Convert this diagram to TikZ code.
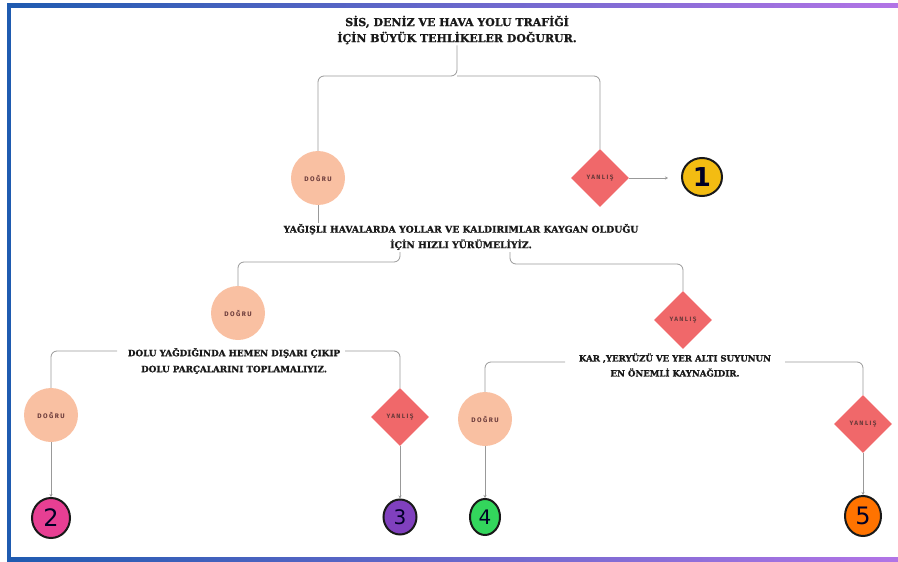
\documentclass[tikz,border=0pt]{standalone}
\usepackage{fontspec}
\usetikzlibrary{shapes.geometric,arrows.meta}
\newfontfamily\slab[BoldFeatures={FakeBold=1.2}]{DejaVu Serif}
\newfontfamily\lbl[LetterSpace=22]{Fira Sans}
\newfontfamily\digit{DejaVu Sans}
\definecolor{peach}{HTML}{F9C0A2}
\definecolor{coral}{HTML}{F0686A}
\definecolor{linec}{HTML}{999999}
\definecolor{lbltxt}{HTML}{6A3A3A}
\definecolor{bblue}{HTML}{1F5BB0}
\definecolor{bpurple}{HTML}{B274E6}
\definecolor{gold}{HTML}{F3BC12}
\tikzset{
  stmt/.style={align=center,inner sep=1pt,text=black!90},
  yes/.style={circle,fill=peach,minimum size=54pt,inner sep=0pt,font=\lbl\bfseries\fontsize{6.6}{7}\selectfont,text=lbltxt},
  no/.style={diamond,fill=coral,minimum width=58pt,minimum height=58pt,inner sep=0pt,font=\lbl\bfseries\fontsize{6.3}{7}\selectfont,text=lbltxt},
  badge/.style={ellipse,draw=black!90,line width=2pt,inner sep=0pt,text=black!85!blue,font=\digit\fontsize{24}{24}\selectfont},
  conn/.style={draw=linec,line width=0.8pt,rounded corners=6pt},
  arr/.style={draw=linec,line width=0.8pt,-{Stealth[length=3pt,width=3pt]}},
}
\begin{document}
\begin{tikzpicture}[x=1pt,y=-1pt]
\useasboundingbox (0,0) rectangle (898,562);
% frame
\shade[left color=bblue,right color=bpurple] (7,3) rectangle (898,7);
\shade[left color=bblue,right color=bpurple] (7,557) rectangle (898,561);
\fill[bblue] (7,3) rectangle (11,561);

% nodes
\node[stmt,font=\slab\bfseries\fontsize{11}{16}\selectfont] (t1) at (457,30) {SİS, DENİZ VE HAVA YOLU TRAFİĞİ\\İÇİN BÜYÜK TEHLİKELER DOĞURUR.};
\node[yes] (d1) at (318,178) {DOĞRU};
\node[no] (y1) at (600,178) {YANLIŞ};
\node[badge,fill=gold,minimum width=40pt,minimum height=38pt,font=\digit\bfseries\fontsize{26}{26}\selectfont] (b1) at (702,177) {1};
\node[stmt,font=\slab\bfseries\fontsize{9.3}{15.5}\selectfont] (t2) at (461,237) {YAĞIŞLI HAVALARDA YOLLAR VE KALDIRIMLAR KAYGAN OLDUĞU\\İÇİN HIZLI YÜRÜMELİYİZ.};
\node[yes] (d2) at (238,313) {DOĞRU};
\node[no] (y2) at (683,320) {YANLIŞ};
\node[stmt,font=\slab\bfseries\fontsize{8.8}{16}\selectfont] (t3) at (234,361) {DOLU YAĞDIĞINDA HEMEN DIŞARI ÇIKIP\\DOLU PARÇALARINI TOPLAMALIYIZ.};
\node[stmt,font=\slab\bfseries\fontsize{8.6}{15}\selectfont] (t4) at (675,365) {KAR ,YERYÜZÜ VE YER ALTI SUYUNUN\\EN ÖNEMLİ KAYNAĞIDIR.};
\node[yes] (d3) at (51,415) {DOĞRU};
\node[no] (y3) at (400,417) {YANLIŞ};
\node[yes] (d4) at (485,419) {DOĞRU};
\node[no] (y4) at (863,424) {YANLIŞ};
\node[badge,fill=magenta!75!purple!80,minimum width=38pt,minimum height=40pt] (b2) at (51,518) {2};
\node[badge,fill=blue!55!purple!75,minimum width=33pt,minimum height=35pt,font=\digit\fontsize{20}{20}\selectfont] (b3) at (400,517) {3};
\node[badge,fill=green!60!teal!80,minimum width=30pt,minimum height=36pt,font=\digit\fontsize{20}{20}\selectfont] (b4) at (485,517) {4};
\node[badge,fill=orange!90!red,minimum width=36pt,minimum height=40pt] (b5) at (863,516) {5};

% connectors
\coordinate (j1) at (457,76);
\draw[conn] (t1.south) -- (j1) -| (d1.north);
\draw[conn] (j1) -| (y1.north);
\coordinate (e1) at (668,178);
\draw[arr] (y1.east) -- (e1);
\draw[conn] (d1.south) -- (d1.south |- t2.north);
\coordinate (a2) at (400,252);
\coordinate (a3) at (510,252);
\draw[conn] (a2) -- ++(0,10) -| (d2.north);
\draw[conn] (a3) -- ++(0,12) -| (y2.north);
\coordinate (a4) at (117,351);
\coordinate (a5) at (345,351);
\draw[conn] (a4) -| (d3.north);
\draw[conn] (a5) -| (y3.north);
\coordinate (a6) at (565,362);
\coordinate (a7) at (785,362);
\draw[conn] (a6) -| (d4.north);
\draw[conn] (a7) -| (y4.north);
\draw[arr] (d3.south) -- (b2.north);
\draw[arr] (y3.south) -- (b3.north);
\draw[arr] (d4.south) -- (b4.north);
\draw[arr] (y4.south) -- (b5.north);
\end{tikzpicture}
\end{document}
